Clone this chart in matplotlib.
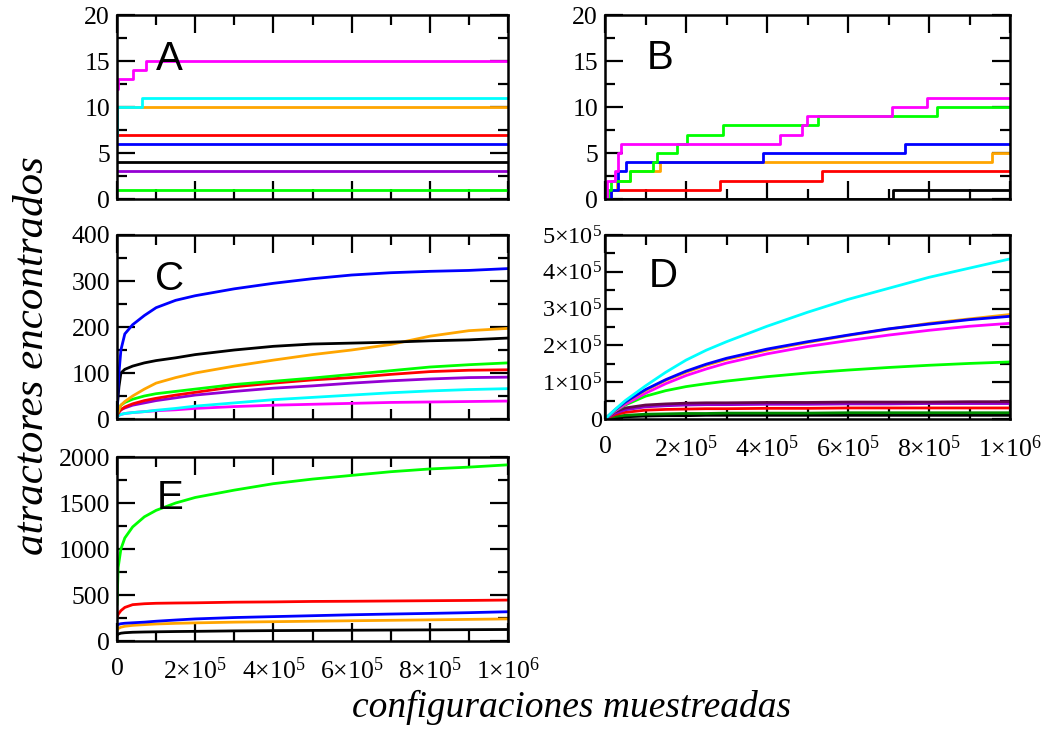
import numpy as np
import matplotlib
matplotlib.use("Agg")
import matplotlib.pyplot as plt
from matplotlib.ticker import MultipleLocator, FuncFormatter

plt.rcParams['font.family'] = ['Liberation Serif', 'DejaVu Serif']
plt.rcParams['mathtext.fontset'] = 'custom'
plt.rcParams['mathtext.rm'] = 'Liberation Serif'
plt.rcParams['mathtext.it'] = 'Liberation Serif:italic'

# grace-like colours
c = {
    "black": "#000000", "red": "#ff0000", "green": "#00ff00", "blue": "#0000ff",
    "orange": "#ffa500", "magenta": "#ff00ff", "cyan": "#00ffff",
    "violet": "#9400d3", "maroon": "#67074a", "dgreen": "#008b00",
}

# ---- panel A: step curves (x in units of 1e6 samples) ----
a_x = {
    "green": [0, 1.0], "violet": [0, 1.0], "black": [0, 1.0], "blue": [0, 1.0],
    "red": [0, 1.0], "orange": [0, 1.0],
    "cyan": [0, 0.001, 0.065, 1.0],
    "magenta": [0, 0.003, 0.04, 0.075, 1.0],
}
a_y = {
    "green": [1, 1], "violet": [3, 3], "black": [4, 4], "blue": [6, 6],
    "red": [7, 7], "orange": [10, 10],
    "cyan": [7, 10, 11, 11],
    "magenta": [12, 13, 14, 15, 15],
}

# ---- panel B: step curves ----
b_x = {
    "black": [0, 0.712, 1.0],
    "red": [0, 0.016, 0.284, 0.535, 1.0],
    "orange": [0, 0.016, 0.029, 0.062, 0.136, 0.955, 1.0],
    "blue": [0, 0.016, 0.033, 0.053, 0.391, 0.741, 1.0],
    "green": [0, 0.008, 0.016, 0.062, 0.119, 0.128, 0.177, 0.202, 0.292, 0.527, 0.819, 1.0],
    "magenta": [0, 0.004, 0.025, 0.033, 0.04, 0.432, 0.486, 0.498, 0.708, 0.794, 1.0],
}
b_y = {
    "black": [0, 1, 1],
    "red": [0, 1, 2, 3, 3],
    "orange": [0, 1, 2, 3, 4, 5, 5],
    "blue": [0, 1, 3, 4, 5, 6, 6],
    "green": [0, 1, 2, 3, 4, 5, 6, 7, 8, 9, 10, 10],
    "magenta": [0, 2, 3, 5, 6, 7, 8, 9, 10, 11, 11],
}

# ---- panel C ----
c_x = [0, 0.005, 0.01, 0.02, 0.04, 0.07, 0.1, 0.15, 0.2, 0.3, 0.4, 0.5, 0.6, 0.7, 0.8, 0.9, 1.0]
c_y = {
    "magenta": [5, 8, 10, 12, 14, 16, 18, 20, 23, 27, 30, 32, 34, 36, 37, 38, 39],
    "cyan": [5, 8, 10, 12, 14, 16, 19, 23, 28, 35, 42, 47, 52, 57, 61, 64, 66],
    "violet": [8, 15, 20, 24, 30, 35, 40, 46, 52, 60, 67, 72, 78, 83, 87, 90, 91],
    "red": [8, 15, 20, 26, 33, 40, 45, 52, 58, 70, 78, 85, 90, 97, 103, 106, 107],
    "green": [10, 20, 30, 36, 43, 50, 55, 60, 65, 75, 82, 89, 97, 105, 113, 118, 122],
    "orange": [10, 20, 30, 38, 50, 65, 78, 90, 100, 115, 128, 140, 150, 162, 180, 192, 197],
    "black": [20, 70, 100, 108, 115, 122, 127, 133, 140, 150, 158, 163, 165, 167, 170, 172, 176],
    "blue": [20, 100, 150, 185, 205, 225, 242, 258, 268, 283, 295, 305, 313, 318, 321, 323, 327],
}

# ---- panel D (values in units of 1e5) ----
d_x = [0, 0.025, 0.05, 0.1, 0.15, 0.2, 0.25, 0.3, 0.4, 0.5, 0.6, 0.7, 0.8, 0.9, 1.0]
d_y = {
    "black": [0, 0.04, 0.06, 0.08, 0.09, 0.09, 0.1, 0.1, 0.1, 0.1, 0.1, 0.1, 0.1, 0.1, 0.1],
    "dgreen": [0, 0.07, 0.1, 0.13, 0.14, 0.15, 0.15, 0.16, 0.16, 0.16, 0.17, 0.17, 0.17, 0.17, 0.17],
    "red": [0, 0.12, 0.18, 0.24, 0.26, 0.27, 0.28, 0.28, 0.29, 0.29, 0.3, 0.3, 0.3, 0.3, 0.3],
    "violet": [0, 0.16, 0.25, 0.33, 0.36, 0.38, 0.39, 0.39, 0.4, 0.4, 0.41, 0.41, 0.42, 0.42, 0.42],
    "maroon": [0, 0.2, 0.3, 0.38, 0.41, 0.43, 0.44, 0.44, 0.45, 0.45, 0.46, 0.46, 0.46, 0.47, 0.47],
    "green": [0, 0.22, 0.38, 0.62, 0.77, 0.88, 0.96, 1.03, 1.15, 1.25, 1.33, 1.4, 1.46, 1.51, 1.55],
    "magenta": [0, 0.22, 0.4, 0.7, 0.96, 1.18, 1.36, 1.52, 1.77, 1.97, 2.13, 2.28, 2.41, 2.52, 2.6],
    "orange": [0, 0.24, 0.45, 0.78, 1.05, 1.27, 1.46, 1.62, 1.87, 2.08, 2.27, 2.44, 2.6, 2.72, 2.84],
    "blue": [0, 0.25, 0.46, 0.8, 1.07, 1.3, 1.49, 1.65, 1.9, 2.1, 2.28, 2.45, 2.58, 2.7, 2.79],
    "cyan": [0, 0.26, 0.5, 0.9, 1.27, 1.6, 1.87, 2.1, 2.52, 2.9, 3.25, 3.55, 3.85, 4.1, 4.35],
}

# ---- panel E ----
e_x = [0, 0.003, 0.01, 0.02, 0.04, 0.07, 0.1, 0.15, 0.2, 0.3, 0.4, 0.5, 0.6, 0.7, 0.8, 0.9, 1.0]
e_y = {
    "black": [60, 75, 85, 90, 95, 98, 100, 103, 105, 110, 113, 115, 117, 119, 121, 123, 125],
    "orange": [120, 135, 150, 160, 170, 178, 185, 192, 197, 205, 210, 215, 220, 225, 230, 235, 240],
    "blue": [170, 180, 188, 193, 198, 205, 215, 228, 240, 255, 265, 275, 285, 293, 300, 308, 318],
    "red": [250, 290, 330, 365, 395, 405, 410, 413, 415, 422, 425, 430, 432, 435, 438, 441, 445],
    "green": [400, 800, 1000, 1120, 1240, 1350, 1420, 1500, 1560, 1640, 1710, 1760, 1800, 1840, 1870, 1890, 1915],
}

W, H = 1043, 730
fig = plt.figure(figsize=(W / 100, H / 100), dpi=100)


def box(l, r, t, b):
    return [l / W, (H - b) / H, (r - l) / W, (b - t) / H]


def sci(v, pos):
    if v == 0:
        return "0"
    e = int(np.floor(np.log10(abs(v)) + 1e-9))
    m = v / 10 ** e
    return "%d\u00d710$^{%d}$" % (round(m), e)


def style(ax, ymax, ymajor, xlabels=False, ysci=False):
    ax.set_xlim(0, 1e6)
    ax.set_ylim(0, ymax)
    ax.xaxis.set_major_locator(MultipleLocator(2e5))
    ax.xaxis.set_minor_locator(MultipleLocator(1e5))
    ax.yaxis.set_major_locator(MultipleLocator(ymajor))
    ax.yaxis.set_minor_locator(MultipleLocator(ymajor / 2))
    ax.tick_params(which='both', direction='in', top=True, right=True,
                   labelsize=18.5, width=1.6)
    ax.tick_params(which='major', length=13)
    ax.tick_params(which='minor', length=7)
    ax.tick_params(axis='x', which='major', pad=12)
    ax.tick_params(axis='y', which='major', pad=5)
    if xlabels:
        ax.xaxis.set_major_formatter(FuncFormatter(sci))
    else:
        ax.set_xticklabels([])
    if ysci:
        ax.yaxis.set_major_formatter(FuncFormatter(sci))
        ax.tick_params(axis='y', which='major', pad=2, labelsize=17.5)
    for s in ax.spines.values():
        s.set_linewidth(1.8)


def letter(ax, t, x, y):
    ax.text(x, y, t, transform=ax.transAxes, ha='center', va='center',
            fontsize=29, family=['Liberation Sans', 'DejaVu Sans'])


lw = 2.0

axA = fig.add_axes(box(117, 508, 15, 199))
for k in a_x:
    axA.step(np.array(a_x[k]) * 1e6, a_y[k], where='post', color=c[k], lw=lw)
style(axA, 20, 5)
letter(axA, "A", 0.135, 0.76)

axB = fig.add_axes(box(605, 1010, 15, 199))
for k in b_x:
    axB.step(np.array(b_x[k]) * 1e6, b_y[k], where='post', color=c[k], lw=lw)
style(axB, 20, 5)
letter(axB, "B", 0.136, 0.766)

axC = fig.add_axes(box(117, 508, 235, 419))
for k in c_y:
    axC.plot(np.array(c_x) * 1e6, c_y[k], color=c[k], lw=lw)
style(axC, 400, 100)
letter(axC, "C", 0.135, 0.76)

axD = fig.add_axes(box(605, 1010, 235, 419))
for k in d_y:
    axD.plot(np.array(d_x) * 1e6, np.array(d_y[k]) * 1e5, color=c[k], lw=lw)
style(axD, 5e5, 1e5, xlabels=True, ysci=True)
letter(axD, "D", 0.143, 0.777)

axE = fig.add_axes(box(117, 508, 457, 641))
for k in e_y:
    axE.plot(np.array(e_x) * 1e6, e_y[k], color=c[k], lw=lw)
style(axE, 2000, 500, xlabels=True)
letter(axE, "E", 0.135, 0.777)

fig.text(33 / W, 1 - 356 / H, "atractores encontrados", rotation=90,
         ha='center', va='center', fontsize=31, style='italic')
fig.text(572 / W, 1 - 707 / H, "configuraciones muestreadas",
         ha='center', va='center', fontsize=27, style='italic')

fig.savefig("out.png", dpi=100)
